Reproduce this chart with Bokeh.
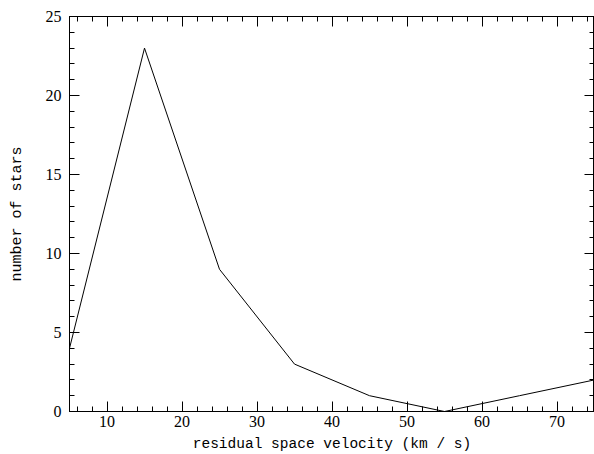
from bokeh.plotting import figure
from bokeh.models import LinearAxis, Range1d, SingleIntervalTicker
from bokeh.embed import file_html
from bokeh.resources import INLINE

velocity = [5, 15, 25, 35, 45, 55, 65, 75]
n_stars = [4, 23, 9, 3, 1, 0, 1, 2]

TICK_FONT = "Liberation Serif"
LABEL_FONT = "Liberation Mono"

p = figure(width=594, height=454, output_backend="svg", toolbar_location=None,
           x_range=Range1d(5, 75), y_range=Range1d(0, 25),
           x_axis_location=None, y_axis_location=None,
           min_border_left=69, min_border_right=0, min_border_top=16, min_border_bottom=43)
p.grid.visible = False
p.outline_line_color = "black"
p.background_fill_color = "white"
p.border_fill_color = "white"

p.line(velocity, n_stars, line_color="black", line_width=1)

def make_axis(labels, ticker_major, minor, axis_label=None, label_size="14px", standoff=7, label_standoff=8):
    ax = LinearAxis(ticker=SingleIntervalTicker(interval=ticker_major, num_minor_ticks=minor))
    ax.major_tick_in = 10
    ax.major_tick_out = 0
    ax.minor_tick_in = 5
    ax.minor_tick_out = 0
    ax.axis_line_color = "black"
    ax.major_tick_line_color = "black"
    ax.minor_tick_line_color = "black"
    if labels:
        ax.major_label_text_font = TICK_FONT
        ax.major_label_text_font_size = "16px"
        ax.major_label_text_color = "black"
        ax.major_label_standoff = standoff
    else:
        ax.major_label_text_font_size = "1px"
        ax.major_label_text_color = None
        ax.major_label_standoff = 0
    if axis_label:
        ax.axis_label = axis_label
        ax.axis_label_text_font = LABEL_FONT
        ax.axis_label_text_font_size = label_size
        ax.axis_label_text_font_style = "normal"
        ax.axis_label_text_color = "black"
        ax.axis_label_standoff = label_standoff
    return ax

p.add_layout(make_axis(True, 10, 5, "residual space velocity (km / s)", "14.5px", 4, 6), "below")
p.add_layout(make_axis(True, 5, 5, "number of stars", "15px", 8, 17), "left")
p.add_layout(make_axis(False, 10, 5), "above")
p.add_layout(make_axis(False, 5, 5), "right")

open("out.html", "w").write(file_html(p, INLINE))
